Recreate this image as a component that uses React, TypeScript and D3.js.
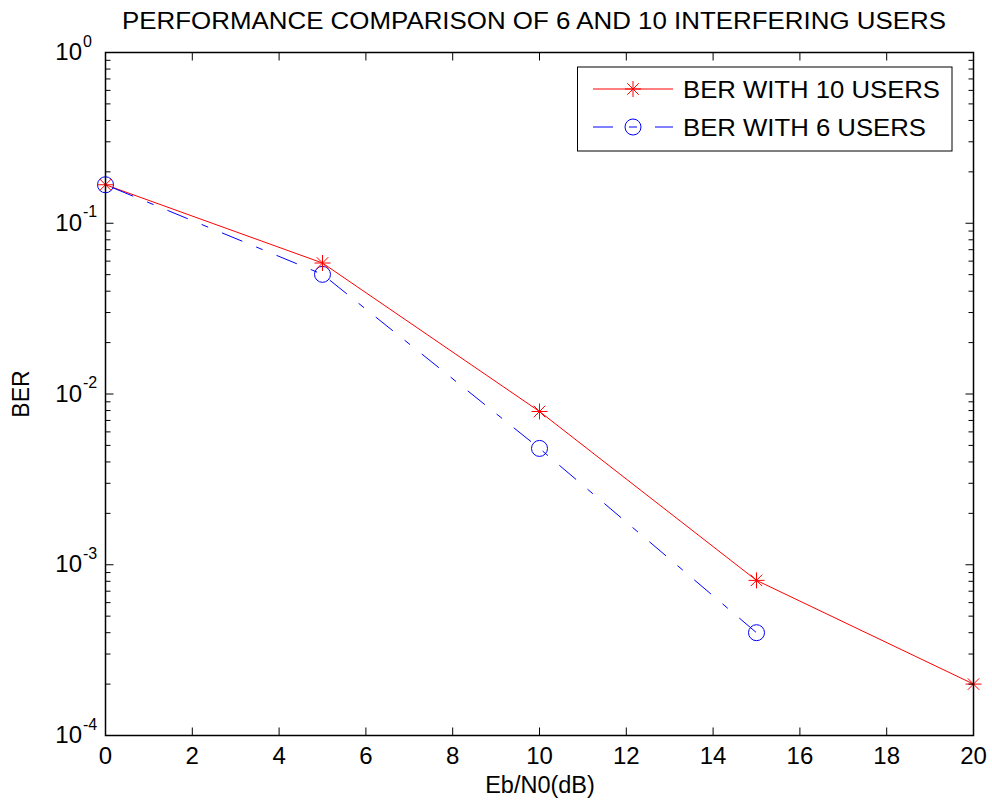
import React from "react";
import * as d3 from "d3";

const snr = [0, 5, 10, 15, 20];
const ber10 = [0.168, 0.0585, 0.0079, 0.00081, 0.0002];
const snr6 = [0, 5, 10, 15];
const ber6 = [0.168, 0.0502, 0.0048, 0.0004];
const xTicks = [0, 2, 4, 6, 8, 10, 12, 14, 16, 18, 20];
const yExps = [0, -1, -2, -3, -4];
const titleText = "PERFORMANCE COMPARISON OF 6 AND 10 INTERFERING USERS";
const legend10 = "BER WITH 10 USERS";
const legend6 = "BER WITH 6 USERS";

const W = 992, H = 806;
const L = 105.5, R = 973.5, T = 52.5, B = 735.5;
const FONT = "'Liberation Sans', Arial, Helvetica, sans-serif";

export default function App() {
  const x = d3.scaleLinear().domain([0, 20]).range([L, R]);
  const y = d3.scaleLog().domain([1e-4, 1]).range([B, T]);
  const line = d3.line<[number, number]>().x(d => x(d[0])).y(d => y(d[1]));
  const d10 = line(snr.map((s, i) => [s, ber10[i]] as [number, number]))!;
  const d6 = line(snr6.map((s, i) => [s, ber6[i]] as [number, number]))!;

  const minor: number[] = [];
  for (let e = -4; e < 0; e++) for (let k = 2; k <= 9; k++) minor.push(k * Math.pow(10, e));

  const star = (cx: number, cy: number, key: string) => {
    const s = 8;
    const d = s * 0.72;
    return (
      <g key={key} stroke="#ff0000" strokeWidth={1}>
        <line x1={cx - s} y1={cy} x2={cx + s} y2={cy} />
        <line x1={cx} y1={cy - s} x2={cx} y2={cy + s} />
        <line x1={cx - d} y1={cy - d} x2={cx + d} y2={cy + d} />
        <line x1={cx - d} y1={cy + d} x2={cx + d} y2={cy - d} />
      </g>
    );
  };

  return (
    <svg width={W} height={H} style={{ position: "absolute", left: 0, top: 0, background: "#fff" }}>
      <rect x={0} y={0} width={W} height={H} fill="#fff" />
      <rect x={L} y={T} width={R - L} height={B - T} fill="#fff" />
      {/* lines */}
      <path d={d10} fill="none" stroke="#ff0000" strokeWidth={1} />
      <path d={d6} fill="none" stroke="#0000ff" strokeWidth={1} strokeDasharray="22,15,7,15" strokeDashoffset={-8} />
      {snr6.map((s, i) => (
        <circle key={"c" + i} cx={x(s)} cy={y(ber6[i])} r={8} fill="none" stroke="#0000ff" strokeWidth={1} />
      ))}
      {snr.map((s, i) => star(x(s), y(ber10[i]), "s" + i))}
      {/* axes box */}
      <rect x={L} y={T} width={R - L} height={B - T} fill="none" stroke="#000" strokeWidth={1.5} />
      {xTicks.map(t => (
        <g key={"xt" + t}>
          <line x1={x(t)} x2={x(t)} y1={B} y2={B - 8} stroke="#000" />
          <line x1={x(t)} x2={x(t)} y1={T} y2={T + 8} stroke="#000" />
          <text x={x(t)} y={B + 28.5} textAnchor="middle" fontFamily={FONT} fontSize={24}>{t}</text>
        </g>
      ))}
      {yExps.map(e => (
        <g key={"yt" + e}>
          <line x1={L} x2={L + 8} y1={y(Math.pow(10, e))} y2={y(Math.pow(10, e))} stroke="#000" />
          <line x1={R} x2={R - 8} y1={y(Math.pow(10, e))} y2={y(Math.pow(10, e))} stroke="#000" />
          <text x={82} y={y(Math.pow(10, e)) + 7.5} textAnchor="end" fontFamily={FONT} fontSize={24}>10</text>
          <text x={83} y={y(Math.pow(10, e)) - 6} textAnchor="start" fontFamily={FONT} fontSize={16}>{e}</text>
        </g>
      ))}
      {minor.map((m, i) => (
        <g key={"m" + i}>
          <line x1={L} x2={L + 5} y1={y(m)} y2={y(m)} stroke="#000" />
          <line x1={R} x2={R - 5} y1={y(m)} y2={y(m)} stroke="#000" />
        </g>
      ))}
      {/* title and labels */}
      <text x={534} y={29.3} textAnchor="middle" fontFamily={FONT} fontSize={23.5} textLength={824} lengthAdjust="spacingAndGlyphs">{titleText}</text>
      <text x={540} y={793} textAnchor="middle" fontFamily={FONT} fontSize={23.5}>Eb/N0(dB)</text>
      <text transform={`translate(29,${(T + B) / 2}) rotate(-90)`} textAnchor="middle" fontFamily={FONT} fontSize={23}>BER</text>
      {/* legend */}
      <rect x={577.5} y={67} width={374.5} height={84} fill="#fff" stroke="#000" strokeWidth={1} />
      <line x1={593} x2={673} y1={89} y2={89} stroke="#ff0000" />
      {star(633, 89, "ls")}
      <text x={683} y={97.5} fontFamily={FONT} fontSize={24} textLength={257} lengthAdjust="spacingAndGlyphs">{legend10}</text>
      <line x1={593} x2={613} y1={127} y2={127} stroke="#0000ff" />
      <line x1={655} x2={673} y1={127} y2={127} stroke="#0000ff" />
      <line x1={629} x2={637} y1={127} y2={127} stroke="#0000ff" />
      <circle cx={633} cy={127} r={8} fill="none" stroke="#0000ff" />
      <text x={683} y={135.5} fontFamily={FONT} fontSize={24} textLength={243} lengthAdjust="spacingAndGlyphs">{legend6}</text>
    </svg>
  );
}
